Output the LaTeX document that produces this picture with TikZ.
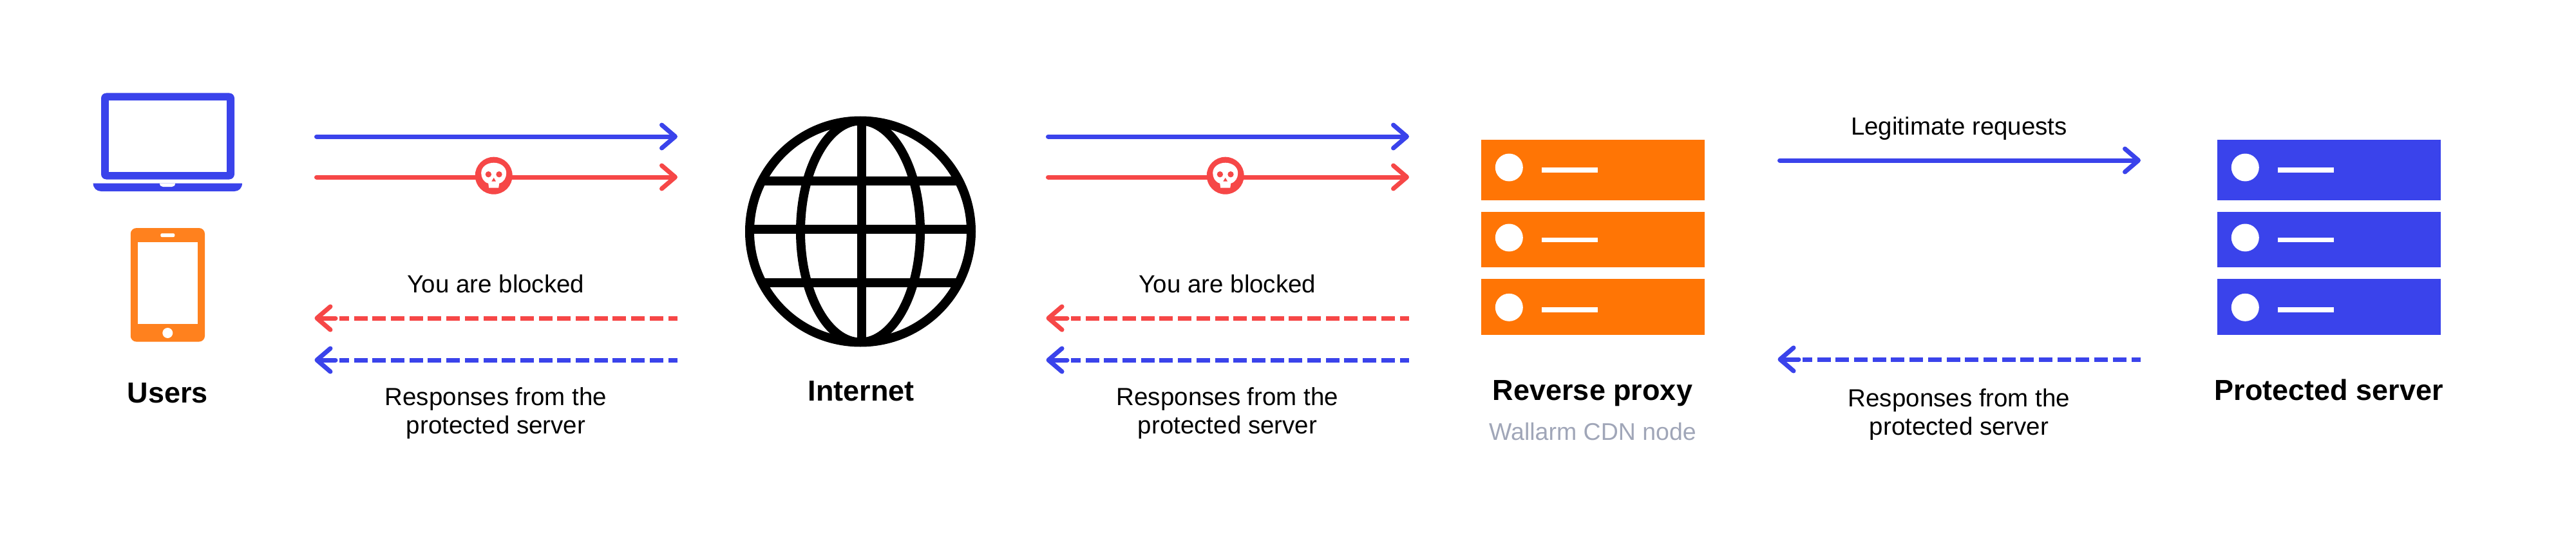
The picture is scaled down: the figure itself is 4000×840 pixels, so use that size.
\documentclass[tikz,border=0pt]{standalone}
\usepackage{fontspec}
\setmainfont{Liberation Sans}
\usetikzlibrary{arrows.meta}

\definecolor{wblue}{HTML}{3A43EB}
\definecolor{wred}{HTML}{F64747}
\definecolor{worange}{HTML}{FF7505}
\definecolor{wphone}{HTML}{FF811E}
\definecolor{wgray}{HTML}{A0A6B8}

\tikzset{
  solidline/.style={line width=7pt, line cap=round, -{Straight Barb[round, length=21pt, width=36pt]}},
  dashline/.style={line width=7pt, dash pattern=on 21pt off 7.7pt, dash phase=6.5pt},
  plate/.style={rectangle, inner sep=0pt, minimum width=347pt, anchor=north west},
  lamp/.style={circle, fill=white, inner sep=0pt, minimum size=43pt},
  slot/.style={rectangle, fill=white, inner sep=0pt, minimum width=87pt, minimum height=7.6pt},
  lbl/.style={inner sep=0pt, anchor=base, align=center, font=\fontsize{38.5}{44}\selectfont},
  title/.style={inner sep=0pt, anchor=base, font=\fontsize{45}{50}\selectfont\bfseries},
  skull/.pic={
    \fill [wred] (0,0) circle (29);
    \fill [white] (-7.5,19) -- (-8.5,12) .. controls (-16,10) and (-19.5,3) .. (-19.5,-4)
      .. controls (-19.5,-14) and (-10,-20) .. (0,-20)
      .. controls (10,-20) and (19.5,-14) .. (19.5,-4)
      .. controls (19.5,3) and (16,10) .. (8.5,12) -- (7.5,19) -- cycle;
    \fill [wred] (-8.3,-2) circle (4.7);
    \fill [wred] (8.3,-2) circle (4.7);
    \fill [wred] (0,3.3) -- (3.4,9) -- (-3.4,9) -- cycle;
  }
}

\begin{document}
\begin{tikzpicture}[x=1pt, y=-1pt]
  \fill [white] (0,0) rectangle (4000,840);
  \useasboundingbox (0,0) rectangle (4000,840);

  % users
  \node (laptop) [rectangle, fill=wblue, rounded corners=8pt, inner sep=0pt, minimum width=207pt, minimum height=134pt] at (260.5, 211.5) {};
  \node (laptop_screen) [rectangle, fill=white, inner sep=0pt, minimum width=183pt, minimum height=110pt] at (laptop) {};
  \fill [wblue] (144.6,284.5) -- (376,284.5) .. controls (376,292) and (371,297) .. (364,297)
    -- (157,297) .. controls (150,297) and (144.6,292) .. cycle;
  \fill [white] (248,284.5) -- (272,284.5) .. controls (272,288) and (270,290) .. (267,290)
    -- (253,290) .. controls (250,290) and (248,288) .. cycle;
  \node (phone) [rectangle, fill=wphone, rounded corners=9pt, inner sep=0pt, minimum width=115.3pt, minimum height=176.5pt] at (260.4, 442.3) {};
  \node (phone_screen) [rectangle, fill=white, inner sep=0pt, minimum width=93.5pt, minimum height=127pt] at (260.3, 439.5) {};
  \node (phone_speaker) [rectangle, fill=white, rounded corners=2pt, inner sep=0pt, minimum width=22pt, minimum height=5.6pt] at (260.3, 365.2) {};
  \node (phone_button) [circle, fill=white, inner sep=0pt, minimum size=16pt] at (260.3, 517) {};
  \node (users) [title] at (260.3, 625) {Users};

  % internet
  \node (globe) [circle, draw, line width=14pt, inner sep=0pt, minimum size=344pt] at (1336, 359.5) {};
  \begin{scope}
    \clip (globe.center) circle (175);
    \draw [line width=14pt] (1336,359.5) ellipse (93 and 172);
    \draw [line width=14pt] (1338,180) -- (1338,539);
    \draw [line width=14pt] (1150,281) -- (1520,281);
    \draw [line width=14pt] (1150,356) -- (1520,356);
    \draw [line width=14pt] (1150,438.7) -- (1520,438.7);
  \end{scope}
  \node (internet) [title] at (1337, 622.5) {Internet};

  % reverse proxy
  \node (rp_a) [plate, fill=worange, minimum height=93.7pt] at (2300, 217) {};
  \node (rp_b) [plate, fill=worange, minimum height=86.7pt] at (2300, 328.3) {};
  \node (rp_c) [plate, fill=worange, minimum height=87pt] at (2300, 432.3) {};
  \node (rp_a_lamp) [lamp] at (2343.3, 260) {};
  \node (rp_b_lamp) [lamp] at (2343.3, 369) {};
  \node (rp_c_lamp) [lamp] at (2343.3, 477.3) {};
  \node (rp_a_slot) [slot] at (2437.5, 264) {};
  \node (rp_b_slot) [slot] at (2437.5, 372.3) {};
  \node (rp_c_slot) [slot] at (2437.5, 480.8) {};
  \node (proxy) [title] at (2473, 621) {Reverse proxy};
  \node (proxy_sub) [lbl, text=wgray, font=\fontsize{37.5}{44}\selectfont] at (2473, 683) {Wallarm CDN node};

  % protected server
  \node (ps_a) [plate, fill=wblue, minimum height=93.7pt] at (3443, 217) {};
  \node (ps_b) [plate, fill=wblue, minimum height=86.7pt] at (3443, 328.3) {};
  \node (ps_c) [plate, fill=wblue, minimum height=87pt] at (3443, 432.3) {};
  \node (ps_a_lamp) [lamp] at (3486.3, 260) {};
  \node (ps_b_lamp) [lamp] at (3486.3, 369) {};
  \node (ps_c_lamp) [lamp] at (3486.3, 477.3) {};
  \node (ps_a_slot) [slot] at (3580.5, 264) {};
  \node (ps_b_slot) [slot] at (3580.5, 372.3) {};
  \node (ps_c_slot) [slot] at (3580.5, 480.8) {};
  \node (server) [title] at (3616.5, 621) {Protected server};

  % arrows, users to internet
  \coordinate (a1_s) at (491.5, 212);
  \coordinate (a1_e) at (1052, 212);
  \coordinate (a2_s) at (491.5, 275);
  \coordinate (a2_e) at (1052, 275);
  \coordinate (a3_s) at (1052, 494);
  \coordinate (a3_m) at (527, 494);
  \coordinate (a3_n) at (521, 494);
  \coordinate (a3_e) at (488.5, 494);
  \coordinate (a4_s) at (1052, 559);
  \coordinate (a4_m) at (527, 559);
  \coordinate (a4_n) at (521, 559);
  \coordinate (a4_e) at (488.5, 559);
  \draw [solidline, wblue] (a1_s) -- (a1_e);
  \draw [solidline, wred] (a2_s) -- (a2_e);
  \pic at (766.7, 272.7) {skull};
  \draw [dashline, wred] (a3_s) -- (a3_m);
  \draw [solidline, wred] (a3_n) -- (a3_e);
  \draw [dashline, wblue] (a4_s) -- (a4_m);
  \draw [solidline, wblue] (a4_n) -- (a4_e);
  \node (a3_lbl) [lbl] at (770, 454) {You are blocked};
  \node (a4_lbl) [lbl] at (770, 673) {Responses from the\\protected server};

  % arrows, internet to proxy
  \coordinate (b1_s) at (1627.5, 212);
  \coordinate (b1_e) at (2188, 212);
  \coordinate (b2_s) at (1627.5, 275);
  \coordinate (b2_e) at (2188, 275);
  \coordinate (b3_s) at (2188, 494);
  \coordinate (b3_m) at (1663, 494);
  \coordinate (b3_n) at (1657, 494);
  \coordinate (b3_e) at (1624.5, 494);
  \coordinate (b4_s) at (2188, 559);
  \coordinate (b4_m) at (1663, 559);
  \coordinate (b4_n) at (1657, 559);
  \coordinate (b4_e) at (1624.5, 559);
  \draw [solidline, wblue] (b1_s) -- (b1_e);
  \draw [solidline, wred] (b2_s) -- (b2_e);
  \pic at (1902.7, 272.7) {skull};
  \draw [dashline, wred] (b3_s) -- (b3_m);
  \draw [solidline, wred] (b3_n) -- (b3_e);
  \draw [dashline, wblue] (b4_s) -- (b4_m);
  \draw [solidline, wblue] (b4_n) -- (b4_e);
  \node (b3_lbl) [lbl] at (1906, 454) {You are blocked};
  \node (b4_lbl) [lbl] at (1906, 673) {Responses from the\\protected server};

  % arrows, proxy to server
  \coordinate (c1_s) at (2763.5, 249);
  \coordinate (c1_e) at (3324, 249);
  \coordinate (c2_s) at (3324, 558);
  \coordinate (c2_m) at (2799, 558);
  \coordinate (c2_n) at (2793, 558);
  \coordinate (c2_e) at (2760.5, 558);
  \draw [solidline, wblue] (c1_s) -- (c1_e);
  \draw [dashline, wblue] (c2_s) -- (c2_m);
  \draw [solidline, wblue] (c2_n) -- (c2_e);
  \node (c1_lbl) [lbl] at (3042, 209) {Legitimate requests};
  \node (c2_lbl) [lbl] at (3042, 675) {Responses from the\\protected server};
\end{tikzpicture}
\end{document}
